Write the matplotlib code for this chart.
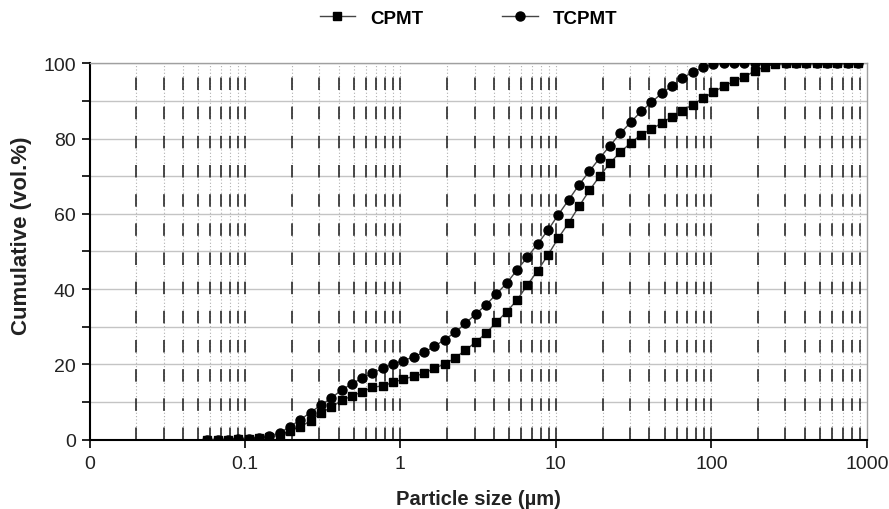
import matplotlib
matplotlib.use("Agg")
import matplotlib.pyplot as plt
from matplotlib.ticker import FixedLocator, NullLocator, MultipleLocator

plt.rcParams["font.family"] = ["Liberation Sans", "DejaVu Sans"]

# particle size classes (um)
size_um = [0.0572, 0.0667, 0.0777, 0.0905, 0.1055, 0.1229, 0.1432, 0.1669,
           0.1945, 0.2266, 0.2641, 0.3077, 0.3586, 0.4178, 0.4869, 0.5675,
           0.6612, 0.7705, 0.8980, 1.046, 1.219, 1.421, 1.656, 1.929,
           2.248, 2.620, 3.053, 3.557, 4.146, 4.831, 5.629, 6.559,
           7.642, 8.907, 10.38, 12.09, 14.09, 16.42, 19.13, 22.30,
           25.98, 30.28, 35.28, 41.11, 47.91, 55.83, 65.05, 75.80,
           88.34, 102.9, 120.0, 139.8, 162.9, 189.8, 221.2, 257.8,
           300.4, 349.9, 407.9, 475.3, 553.8, 645.4, 752.0, 876.3]

cpmt = [0.0, 0.0, 0.0, 0.3, 0.3, 0.5, 0.8, 1.1,
        2.4, 3.4, 5.0, 7.1, 8.6, 10.4, 11.6, 12.7,
        13.9, 14.3, 15.2, 16.1, 16.8, 17.6, 19.0, 20.1,
        21.7, 23.8, 25.9, 28.3, 31.2, 34.0, 37.1, 41.1,
        44.9, 49.1, 53.6, 57.6, 62.0, 66.2, 70.0, 73.5,
        76.4, 78.8, 81.0, 82.5, 84.1, 85.8, 87.4, 89.0,
        90.7, 92.3, 93.9, 95.2, 96.4, 97.9, 99.1, 99.8,
        100, 100, 100, 100, 100, 100, 100, 100]

tcpmt = [0.0, 0.0, 0.0, 0.3, 0.3, 0.5, 0.9, 1.8,
         3.4, 5.3, 7.2, 9.2, 11.0, 13.2, 14.8, 16.4,
         17.6, 19.0, 20.1, 21.0, 22.0, 23.2, 24.8, 26.6,
         28.5, 30.9, 33.4, 35.8, 38.7, 41.6, 45.1, 48.5,
         52.0, 55.7, 59.8, 63.7, 67.7, 71.3, 74.8, 78.1,
         81.4, 84.3, 87.2, 89.6, 92.0, 94.0, 96.1, 97.6,
         98.9, 99.7, 100, 100, 100, 100, 100, 100,
         100, 100, 100, 100, 100, 100, 100, 100]

xticks = [0.01, 0.1, 1, 10, 100, 1000]
xtick_labels = ["0", "0.1", "1", "10", "100", "1000"]

fig = plt.figure(figsize=(8.89, 5.10), dpi=100)
ax = fig.add_axes([0.1007, 0.136, 0.8743, 0.738])
ax.set_xscale("log")
ax.set_xlim(0.01, 1000)
ax.set_ylim(0, 100)

# horizontal grid every 10
for yv in range(10, 101, 10):
    ax.axhline(yv, color="#c4c4c4", lw=1.0, zorder=1)

# vertical grid at 1..9 x each decade
for dec in [0.01, 0.1, 1, 10, 100]:
    for m in range(1, 10):
        xv = dec * m
        if xv <= 0.01:
            continue
        ax.axvline(xv, color="#b0b0b0", lw=0.8, ls=(0, (1, 2)), zorder=1)
        ax.axvline(xv, color="#2a2a2a", lw=1.2, ls=(0, (7.5, 10)), zorder=1.5)

ax.plot(size_um, cpmt, color="#444444", lw=1.0, marker="s", ms=5.8,
        mfc="black", mec="black", label="CPMT", zorder=3)
ax.plot(size_um, tcpmt, color="#444444", lw=1.0, marker="o", ms=6.5,
        mfc="black", mec="black", label="TCPMT", zorder=4)

ax.xaxis.set_major_locator(FixedLocator(xticks))
ax.xaxis.set_minor_locator(NullLocator())
ax.set_xticklabels(xtick_labels)
ax.yaxis.set_major_locator(MultipleLocator(20))
ax.yaxis.set_minor_locator(MultipleLocator(10))
ax.tick_params(axis="both", which="major", direction="out", length=6, width=1.2,
               labelsize=14, labelcolor="#222222", color="black")
ax.tick_params(axis="y", which="minor", direction="out", length=6, width=1.2)
ax.tick_params(axis="x", pad=5)
ax.tick_params(axis="y", pad=4)

for side in ["left", "bottom"]:
    ax.spines[side].set_color("black")
    ax.spines[side].set_linewidth(1.5)
for side in ["top", "right"]:
    ax.spines[side].set_color("#a0a0a0")
    ax.spines[side].set_linewidth(1.0)

ax.set_xlabel("Particle size (\u00b5m)", fontsize=14.5, fontweight="bold",
              color="#222222", labelpad=12)
ax.set_ylabel("Cumulative (vol.%)", fontsize=16, fontweight="bold",
              color="#222222")
ax.yaxis.set_label_coords(-0.074, 0.545)

fig.legend(loc="upper center", bbox_to_anchor=(0.527, 1.012), ncol=2,
           frameon=False, prop={"weight": "bold", "size": 13.5},
           handlelength=1.9, columnspacing=4.2, handletextpad=0.8)

fig.savefig("out.png", dpi=100)
